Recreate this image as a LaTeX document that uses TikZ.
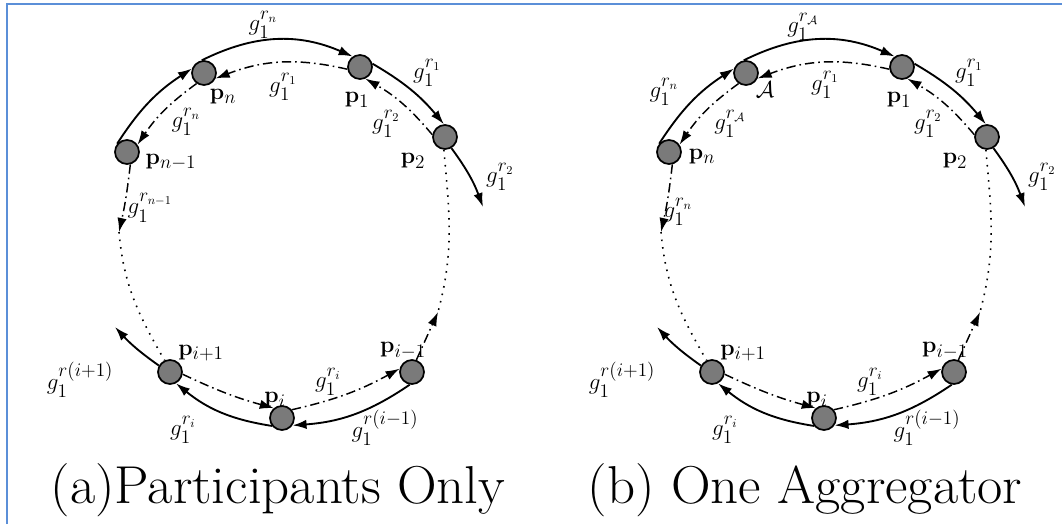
\documentclass[tikz,border=0pt]{standalone}
\usepackage{amsmath,amssymb}
\usepackage{xcolor}
\usepackage{tikz}
\usetikzlibrary{arrows.meta}
\definecolor{FrameC}{HTML}{5B8FD8}
\definecolor{NodeC}{HTML}{7A7A7A}

\tikzset{
  pnode/.style={circle,draw,fill=NodeC,line width=1.3pt,minimum size=18pt,inner sep=0pt},
  outarc/.style={line width=1.4pt,-{Latex[length=10.5pt,width=7pt]}},
  inarc/.style={line width=1.1pt,dash pattern=on 7pt off 3pt on 1.2pt off 3pt,-{Latex[length=10.5pt,width=7pt]}},
  ringdots/.style={line width=1.2pt,dash pattern=on 1.2pt off 4.5pt},
  labtext/.style={font=\fontsize{19}{21}\selectfont,inner sep=0pt},
  captext/.style={font=\fontsize{40}{44}\selectfont,inner sep=0pt}
}

\begin{document}
\begin{tikzpicture}[x=0.75pt,y=0.75pt]
\useasboundingbox (0,0) rectangle (1062,-524);
\draw[FrameC,line width=2.2pt] (7,-524) -- (7,-4) -- (1062,-4);

% ---------- (a) participants only ----------
\begin{scope}[name prefix=a-]
  \node[pnode] (pn) at (204,-73) {};
  \node[pnode] (p1) at (360,-67) {};
  \node[pnode] (p2) at (445,-137) {};
  \node[pnode] (pm) at (127,-152) {};
  \node[pnode] (pu) at (170,-372) {};
  \node[pnode] (pi) at (282,-418) {};
  \node[pnode] (pd) at (412,-372) {};
  \coordinate (e2) at (483,-207);
  \coordinate (em) at (119,-232);
  \coordinate (eu) at (115,-327);
  \coordinate (ed) at (438,-312);
  % outer ring, clockwise
  \draw[outarc] (pm.140) to[bend left=12] (pn.160);
  \draw[outarc] (pn.100) to[bend left=25] (p1.125);
  \draw[outarc] (p1.15) to[bend left=10] (p2.95);
  \draw[outarc] (p2.-60) to[bend left=8] (e2);
  \draw[outarc] (pd.260) to[bend left=15] (pi.-35);
  \draw[outarc] (pi.218) to[bend left=15] (pu.-62);
  \draw[outarc] (pu.150) to[bend left=6] (eu);
  % inner ring, counter-clockwise
  \draw[inarc] (p1.190) to[bend right=17] (pn.-25);
  \draw[inarc] (pn.235) to[bend right=10] (pm.35);
  \draw[inarc] (p2.170) to[bend right=10] (p1.-65);
  \draw[inarc] (pm.-75) to[bend left=3] (em);
  \draw[inarc] (pu.-10) to[bend right=5] (pi.130);
  \draw[inarc] (pi.40) to[bend right=8] (pd.165);
  \draw[inarc] (pd.70) -- (ed);
  \draw[ringdots] (em) to[out=-85,in=120] (pu.115);
  \draw[ringdots] (p2.-95) to[out=-85,in=75] (ed);
  % names
  \node[labtext] (ln) at (223,-97) {$\mathbf{p}_n$};
  \node[labtext] (l1) at (357,-100) {$\mathbf{p}_1$};
  \node[labtext] (l2) at (413,-161) {$\mathbf{p}_2$};
  \node[labtext] (lm) at (171,-162) {$\mathbf{p}_{n-1}$};
  \node[labtext] (lu) at (201,-353) {$\mathbf{p}_{i+1}$};
  \node[labtext] (li) at (275,-400) {$\mathbf{p}_i$};
  \node[labtext] (ld) at (403,-351) {$\mathbf{p}_{i-1}$};
  % keys
  \node[labtext] (gn) at (263,-25) {$g_1^{r_n}$};
  \node[labtext] (g1) at (427,-73) {$g_1^{r_1}$};
  \node[labtext] (g2) at (500,-177) {$g_1^{r_2}$};
  \node[labtext] (gd) at (385,-428) {$g_1^{r(i-1)}$};
  \node[labtext] (gi) at (183,-430) {$g_1^{r_i}$};
  \node[labtext] (gu) at (80,-380) {$g_1^{r(i+1)}$};
  \node[labtext] (hn) at (283,-87) {$g_1^{r_1}$};
  \node[labtext] (hm) at (186,-122) {$g_1^{r_n}$};
  \node[labtext] (h1) at (386,-124) {$g_1^{r_2}$};
  \node[labtext] (hu) at (150,-208) {$g_1^{r_{n-1}}$};
  \node[labtext] (hi) at (328,-382) {$g_1^{r_i}$};
  \node[captext] (caption) at (278,-490) {\scalebox{1.03}[1]{(a)Participants Only}};
\end{scope}

% ---------- (b) one aggregator ----------
\begin{scope}[shift={(542,0)},name prefix=b-]
  \node[pnode] (pn) at (204,-73) {};
  \node[pnode] (p1) at (360,-67) {};
  \node[pnode] (p2) at (445,-137) {};
  \node[pnode] (pm) at (127,-152) {};
  \node[pnode] (pu) at (170,-372) {};
  \node[pnode] (pi) at (282,-418) {};
  \node[pnode] (pd) at (412,-372) {};
  \coordinate (e2) at (483,-207);
  \coordinate (em) at (119,-232);
  \coordinate (eu) at (115,-327);
  \coordinate (ed) at (438,-312);
  % outer ring, clockwise
  \draw[outarc] (pm.140) to[bend left=12] (pn.160);
  \draw[outarc] (pn.100) to[bend left=25] (p1.125);
  \draw[outarc] (p1.15) to[bend left=10] (p2.95);
  \draw[outarc] (p2.-60) to[bend left=8] (e2);
  \draw[outarc] (pd.260) to[bend left=15] (pi.-35);
  \draw[outarc] (pi.218) to[bend left=15] (pu.-62);
  \draw[outarc] (pu.150) to[bend left=6] (eu);
  % inner ring, counter-clockwise
  \draw[inarc] (p1.190) to[bend right=17] (pn.-25);
  \draw[inarc] (pn.235) to[bend right=10] (pm.35);
  \draw[inarc] (p2.170) to[bend right=10] (p1.-65);
  \draw[inarc] (pm.-75) to[bend left=3] (em);
  \draw[inarc] (pu.-10) to[bend right=5] (pi.130);
  \draw[inarc] (pi.40) to[bend right=8] (pd.165);
  \draw[inarc] (pd.70) -- (ed);
  \draw[ringdots] (em) to[out=-85,in=120] (pu.115);
  \draw[ringdots] (p2.-95) to[out=-85,in=75] (ed);
  % names
  \node[labtext] (ln) at (223,-90) {$\mathcal{A}$};
  \node[labtext] (l1) at (357,-100) {$\mathbf{p}_1$};
  \node[labtext] (l2) at (413,-161) {$\mathbf{p}_2$};
  \node[labtext] (lm) at (160,-157) {$\mathbf{p}_n$};
  \node[labtext] (lu) at (201,-353) {$\mathbf{p}_{i+1}$};
  \node[labtext] (li) at (275,-400) {$\mathbf{p}_i$};
  \node[labtext] (ld) at (403,-351) {$\mathbf{p}_{i-1}$};
  % keys
  \node[labtext] (gm) at (122,-92) {$g_1^{r_n}$};
  \node[labtext] (gn) at (261,-27) {$g_1^{r_{\mathcal{A}}}$};
  \node[labtext] (g1) at (427,-73) {$g_1^{r_1}$};
  \node[labtext] (g2) at (500,-177) {$g_1^{r_2}$};
  \node[labtext] (gd) at (385,-428) {$g_1^{r(i-1)}$};
  \node[labtext] (gi) at (183,-430) {$g_1^{r_i}$};
  \node[labtext] (gu) at (80,-380) {$g_1^{r(i+1)}$};
  \node[labtext] (hn) at (283,-85) {$g_1^{r_1}$};
  \node[labtext] (hm) at (188,-124) {$g_1^{r_{\mathcal{A}}}$};
  \node[labtext] (h1) at (386,-124) {$g_1^{r_2}$};
  \node[labtext] (hu) at (136,-212) {$g_1^{r_n}$};
  \node[labtext] (hi) at (328,-382) {$g_1^{r_i}$};
  \node[captext] (caption) at (263,-490) {\scalebox{1.03}[1]{(b) One Aggregator}};
\end{scope}
\end{tikzpicture}
\end{document}
